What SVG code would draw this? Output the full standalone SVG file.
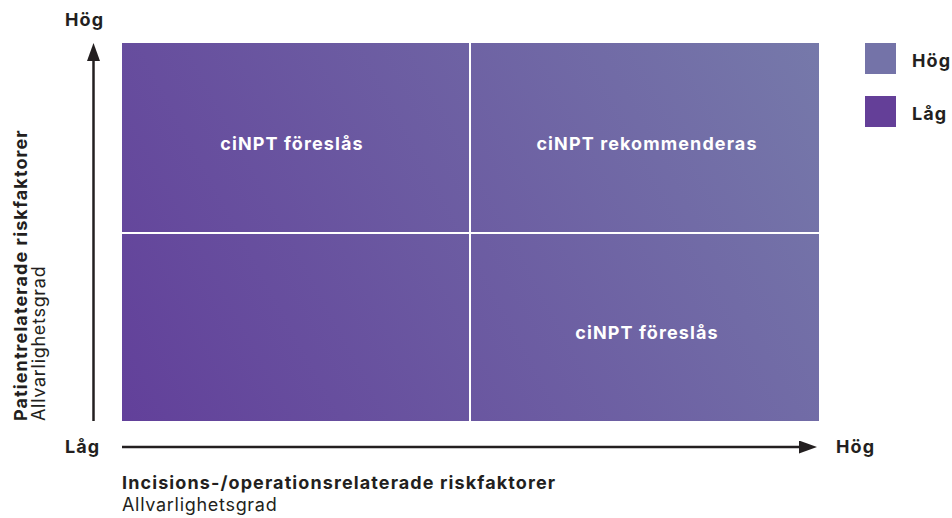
<svg xmlns="http://www.w3.org/2000/svg" width="952" height="518" viewBox="0 0 952 518">
  <style>
    text { font-family: Inter, "Liberation Sans", Arial, sans-serif; fill: #231f20; }
    .b { font-weight: 700; font-size: 18px; letter-spacing: 1.1px; }
    .r { font-weight: 400; font-size: 18px; letter-spacing: 0.7px; }
    .q { font-weight: 700; font-size: 18px; letter-spacing: 1.1px; fill: #ffffff; text-anchor: middle; }
    .axis { stroke: #231f20; stroke-width: 2.5; fill: none; }
    .div { stroke: #ffffff; stroke-width: 2; }
  </style>
  <defs>
    <linearGradient id="grid-fill" x1="122" y1="421" x2="819" y2="43" gradientUnits="userSpaceOnUse">
      <stop offset="0" stop-color="#62409a"/>
      <stop offset="1" stop-color="#7679aa"/>
    </linearGradient>
    <marker id="arrow" viewBox="0 0 18 13" refX="10" refY="6.5" markerWidth="18" markerHeight="13" markerUnits="userSpaceOnUse" orient="auto">
      <path d="M0,0 L18,6.5 L0,13 z" fill="#231f20"/>
    </marker>
  </defs>

  <g id="matrix">
    <rect x="122" y="43" width="697" height="378" fill="url(#grid-fill)"/>
    <line class="div" x1="470" y1="43" x2="470" y2="421"/>
    <line class="div" x1="122" y1="233" x2="819" y2="233"/>
  </g>

  <g id="quadrant-top-left"><text class="q" x="292" y="150">ciNPT föreslås</text></g>
  <g id="quadrant-top-right"><text class="q" x="647" y="150">ciNPT rekommenderas</text></g>
  <g id="quadrant-bottom-right"><text class="q" x="647" y="339">ciNPT föreslås</text></g>

  <g id="connectors">
    <path class="axis" d="M93.5,421 V51" marker-end="url(#arrow)"/>
    <path class="axis" d="M122,447 H809" marker-end="url(#arrow)"/>
  </g>

  <g id="axis-labels">
    <text class="b" x="65" y="26">Hög</text>
    <text class="b" x="65" y="453">Låg</text>
    <text class="b" x="836" y="453">Hög</text>
    <text class="b" transform="translate(27,421) rotate(-90)">Patientrelaterade riskfaktorer</text>
    <text class="r" transform="translate(45,421) rotate(-90)">Allvarlighetsgrad</text>
    <text class="b" x="122" y="489">Incisions-/operationsrelaterade riskfaktorer</text>
    <text class="r" x="122" y="511">Allvarlighetsgrad</text>
  </g>

  <g id="legend">
    <rect x="865" y="43" width="31" height="31" fill="#7473a8"/>
    <text class="b" x="912" y="67">Hög</text>
    <rect x="865" y="96" width="31" height="31" fill="#643f98"/>
    <text class="b" x="912" y="120">Låg</text>
  </g>
</svg>
